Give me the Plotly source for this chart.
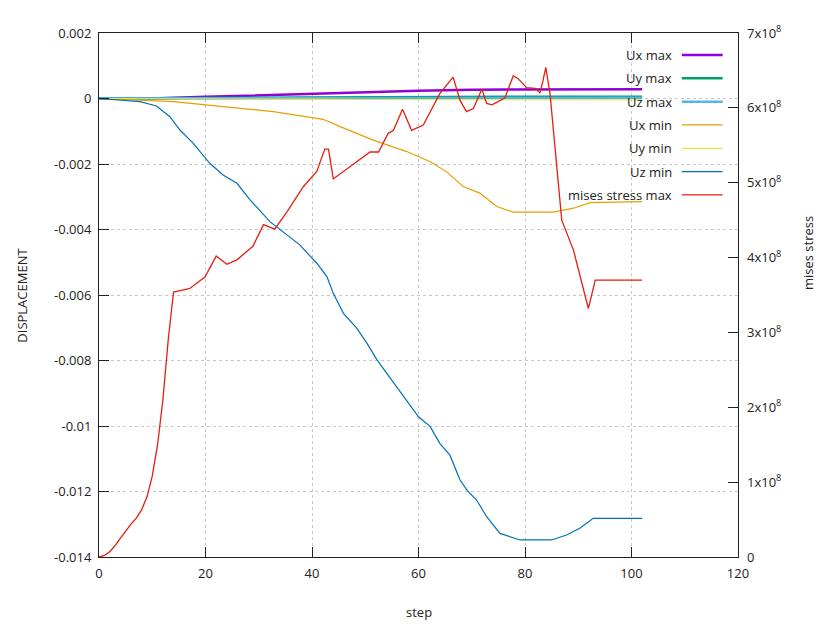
import plotly.graph_objects as go

# ---- data ----
stress_step = [0, 1, 2, 3, 4, 5, 6, 7, 8, 9, 10, 11, 12, 13, 14, 16.5, 17.1, 19.9, 22, 24, 25.9,
               28.9, 30.9, 33, 35.3, 38.4, 40.9, 42.4, 43.1, 44, 45.9, 48.4, 50.9, 52.5, 54.3,
               55.3, 57, 58.7, 60.9, 64, 66.5, 67.8, 69, 70.3, 71.9, 72.8, 73.8, 76.2, 77.8, 78.7,
               80.3, 81.9, 82.8, 83.4, 83.9, 84.7, 86.9, 89.1, 91.9, 93.2, 102]
stress_max = [0, 0.02, 0.07, 0.15, 0.25, 0.35, 0.44, 0.52, 0.63, 0.80, 1.08, 1.5, 2.1, 2.9, 3.54,
              3.58, 3.59, 3.74, 4.02, 3.91, 3.97, 4.15, 4.44, 4.38, 4.61, 4.95, 5.15, 5.45, 5.45,
              5.05, 5.15, 5.28, 5.41, 5.41, 5.66, 5.70, 5.98, 5.70, 5.77, 6.19, 6.41, 6.10, 5.95,
              5.99, 6.25, 6.06, 6.04, 6.13, 6.43, 6.39, 6.27, 6.26, 6.20, 6.37, 6.54, 6.19, 4.50,
              4.10, 3.32, 3.70, 3.70]  # x1e8

uzmin_step = [0, 7.7, 10.8, 13.3, 15.2, 17.7, 20.8, 23.3, 25.9, 28.4, 32.1, 35.2, 37.7, 40.9, 42.8,
              44, 45.9, 48.4, 50.3, 52.2, 54.3, 57.8, 60, 62.2, 64, 65.9, 67.8, 69.1, 70.9, 72.8,
              75.3, 79.1, 85, 87.8, 90.3, 92.8, 102]
uz_min = [0, -0.098, -0.229, -0.556, -0.962, -1.368, -1.979, -2.336, -2.589, -3.10, -3.76, -4.14,
          -4.47, -5.03, -5.44, -5.95, -6.56, -7.01, -7.47, -7.98, -8.44, -9.21, -9.72, -10.02,
          -10.53, -10.89, -11.65, -11.96, -12.26, -12.77, -13.28, -13.48, -13.48, -13.33, -13.12,
          -12.82, -12.82]  # x1e-3

uxmin_step = [0, 14, 23.3, 32.7, 42.1, 45.3, 51.5, 54.3, 57.8, 62.2, 65.3, 68.4, 71.5, 74.7, 77.8,
              85.3, 89.1, 92.2, 102]
ux_min = [0, -0.098, -0.25, -0.40, -0.635, -0.86, -1.27, -1.42, -1.62, -1.93, -2.24, -2.69, -2.89,
          -3.30, -3.47, -3.47, -3.35, -3.18, -3.15]  # x1e-3

small_step = [0, 10, 20, 30, 40, 50, 60, 70, 80, 90, 102]
ux_max = [0, 0.0, 0.05, 0.10, 0.15, 0.20, 0.24, 0.27, 0.28, 0.28, 0.28]
uy_max = [0, 0.0, 0.01, 0.02, 0.03, 0.04, 0.05, 0.055, 0.055, 0.055, 0.055]
uz_max = [0, 0.0, 0.005, 0.01, 0.01, 0.015, 0.02, 0.02, 0.02, 0.02, 0.02]
uy_min = [0, 0.0, -0.01, -0.015, -0.02, -0.03, -0.035, -0.04, -0.045, -0.045, -0.045]

left_ticks = [0.002, 0, -0.002, -0.004, -0.006, -0.008, -0.01, -0.012, -0.014]
left_labels = ["0.002", "0", "-0.002", "-0.004", "-0.006", "-0.008", "-0.01", "-0.012", "-0.014"]
right_ticks = [0, 1e8, 2e8, 3e8, 4e8, 5e8, 6e8, 7e8]
right_labels = ["0"] + ["%dx10<sup>8</sup>" % i for i in range(1, 8)]

# gnuplot default palette
series = [
    ("Ux max", small_step, ux_max, "#9400d3", 2.5),
    ("Uy max", small_step, uy_max, "#009e73", 2.5),
    ("Uz max", small_step, uz_max, "#56b4e9", 2.5),
    ("Ux min", uxmin_step, ux_min, "#e69f00", 1.2),
    ("Uy min", small_step, uy_min, "#f0e442", 1.2),
    ("Uz min", uzmin_step, uz_min, "#0072b2", 1.2),
]

fig = go.Figure()
for name, xs, ys, col, w in series:
    fig.add_trace(go.Scatter(x=xs, y=[v * 1e-3 for v in ys], name=name, mode="lines",
                             line=dict(color=col, width=w), showlegend=False))
fig.add_trace(go.Scatter(x=stress_step, y=[v * 1e8 for v in stress_max], name="mises stress max",
                         mode="lines", line=dict(color="#e51e10", width=1.3), yaxis="y2",
                         showlegend=False))

# hand-built key: text right-aligned, sample line on the right (gnuplot style)
key = [(n, c, w) for n, _, _, c, w in series] + [("mises stress max", "#e51e10", 1.3)]
for i, (name, col, w) in enumerate(key):
    ypos = 0.958 - i * 0.0445
    fig.add_annotation(x=0.8998, y=ypos, xref="paper", yref="paper", text=name, showarrow=False,
                       xanchor="right", yanchor="middle", font=dict(size=13, color="#222"))
    fig.add_shape(type="line", xref="paper", yref="paper", x0=0.912, x1=0.976, y0=ypos, y1=ypos,
                  line=dict(color=col, width=w))

# axis titles placed like gnuplot does
title_font = dict(size=13, color="#222")
fig.add_annotation(x=1.1095, y=0.58, xref="paper", yref="paper", text="mises stress",
                   textangle=-90, showarrow=False, xanchor="center", yanchor="middle",
                   font=title_font)
fig.add_annotation(x=-0.121, y=0.5, xref="paper", yref="paper", text="DISPLACEMENT",
                   textangle=-90, showarrow=False, xanchor="center", yanchor="middle",
                   font=title_font)
fig.add_annotation(x=0.5, y=-0.105, xref="paper", yref="paper", text="step",
                   showarrow=False, xanchor="center", yanchor="middle", font=title_font)

grid = dict(showgrid=True, gridcolor="#c8c8c8", griddash="dot", gridwidth=1)
# page body adds an 8px margin, so the figure is 16px smaller than the window
fig.update_layout(
    width=812, height=614,
    margin=dict(l=91, r=82, t=25, b=65),
    paper_bgcolor="#FFFFFF", plot_bgcolor="#FFFFFF",
    font=dict(family="Open Sans, sans-serif", size=13, color="#222"),
    xaxis=dict(range=[0, 120], tickvals=[0, 20, 40, 60, 80, 100, 120], ticks="inside",
               ticklen=10, tickcolor="#222", showline=True, linecolor="#222", linewidth=1,
               mirror="ticks", zeroline=False, automargin=False, ticklabelstandoff=4, **grid),
    yaxis=dict(range=[-0.014, 0.002], tickvals=left_ticks, ticktext=left_labels, ticks="inside",
               ticklen=10, tickcolor="#222", showline=True, linecolor="#222", linewidth=1,
               mirror=True, zeroline=False, automargin=False, ticklabelstandoff=4, **grid),
    yaxis2=dict(range=[0, 7e8], tickvals=right_ticks, ticktext=right_labels, overlaying="y",
                side="right", ticks="inside", ticklen=10, tickcolor="#222", showgrid=False,
                zeroline=False, showline=False, automargin=False, ticklabelstandoff=8),
    hovermode="closest",
)

fig.write_html("out.html")
